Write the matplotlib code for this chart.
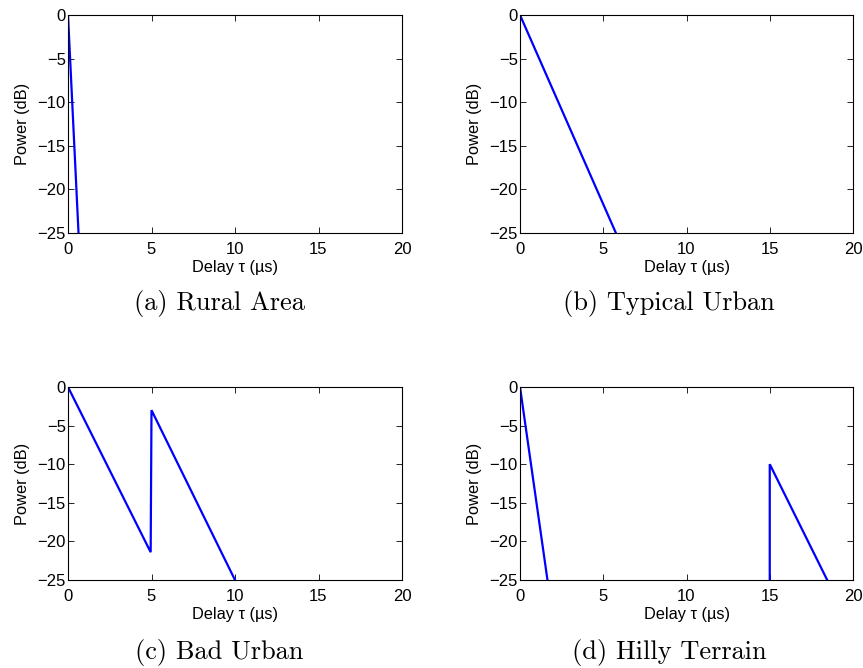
import matplotlib
matplotlib.use("Agg")
import numpy as np
import matplotlib.pyplot as plt

plt.rcParams['font.family'] = ['Liberation Sans', 'DejaVu Sans']
plt.rcParams['axes.linewidth'] = 0.8

# profile breakpoints (delay in us, power in dB)
rural_t = [0.0, 0.63]
rural_p = [0.0, -25.0]

urban_t = [0.0, 5.76]
urban_p = [0.0, -25.0]

bad_t = [0.0, 4.95, 5.0, 10.0]
bad_p = [0.0, -21.4, -3.0, -25.0]

hilly_t1 = [0.0, 1.65]
hilly_p1 = [0.0, -25.0]
hilly_t2 = [15.0, 15.0, 18.45]
hilly_p2 = [-25.0, -10.0, -25.0]

captions = ['(a) Rural Area', '(b) Typical Urban', '(c) Bad Urban', '(d) Hilly Terrain']

W, H = 863, 668
fig = plt.figure(figsize=(W / 100, H / 100), dpi=100)

# axes boxes in pixels: left, top, right, bottom
boxes = [(68, 15, 402, 233), (520, 15, 853, 233),
         (68, 387, 402, 580), (520, 387, 853, 580)]
cap_x = [219, 669, 219, 669]
cap_y = [303, 303, 652, 652]

series = [
    [(rural_t, rural_p)],
    [(urban_t, urban_p)],
    [(bad_t, bad_p)],
    [(hilly_t1, hilly_p1), (hilly_t2, hilly_p2)],
]

for i, (l, t, r, b) in enumerate(boxes):
    ax = fig.add_axes([l / W, 1 - b / H, (r - l) / W, (b - t) / H])
    for xs, ys in series[i]:
        ax.plot(xs, ys, color='#0000ff', lw=1.6, solid_joinstyle='miter')
    ax.set_xlim(0, 20)
    ax.set_ylim(-25, 0)
    ax.set_xticks([0, 5, 10, 15, 20])
    ax.set_yticks([0, -5, -10, -15, -20, -25])
    ax.tick_params(direction='in', top=True, right=True, length=4,
                   width=0.6, labelsize=12)
    ax.tick_params(axis='x', pad=6.5)
    ax.tick_params(axis='y', pad=1.5)
    ax.set_xlabel('Delay τ (µs)', fontsize=11.8, labelpad=2)
    ax.set_ylabel('Power (dB)', fontsize=11.8, labelpad=5.5)
    fig.text(cap_x[i] / W, 1 - cap_y[i] / H, captions[i], family='cmr10',
             fontsize=19, ha='center', va='center')

fig.savefig('out.png', dpi=100)
